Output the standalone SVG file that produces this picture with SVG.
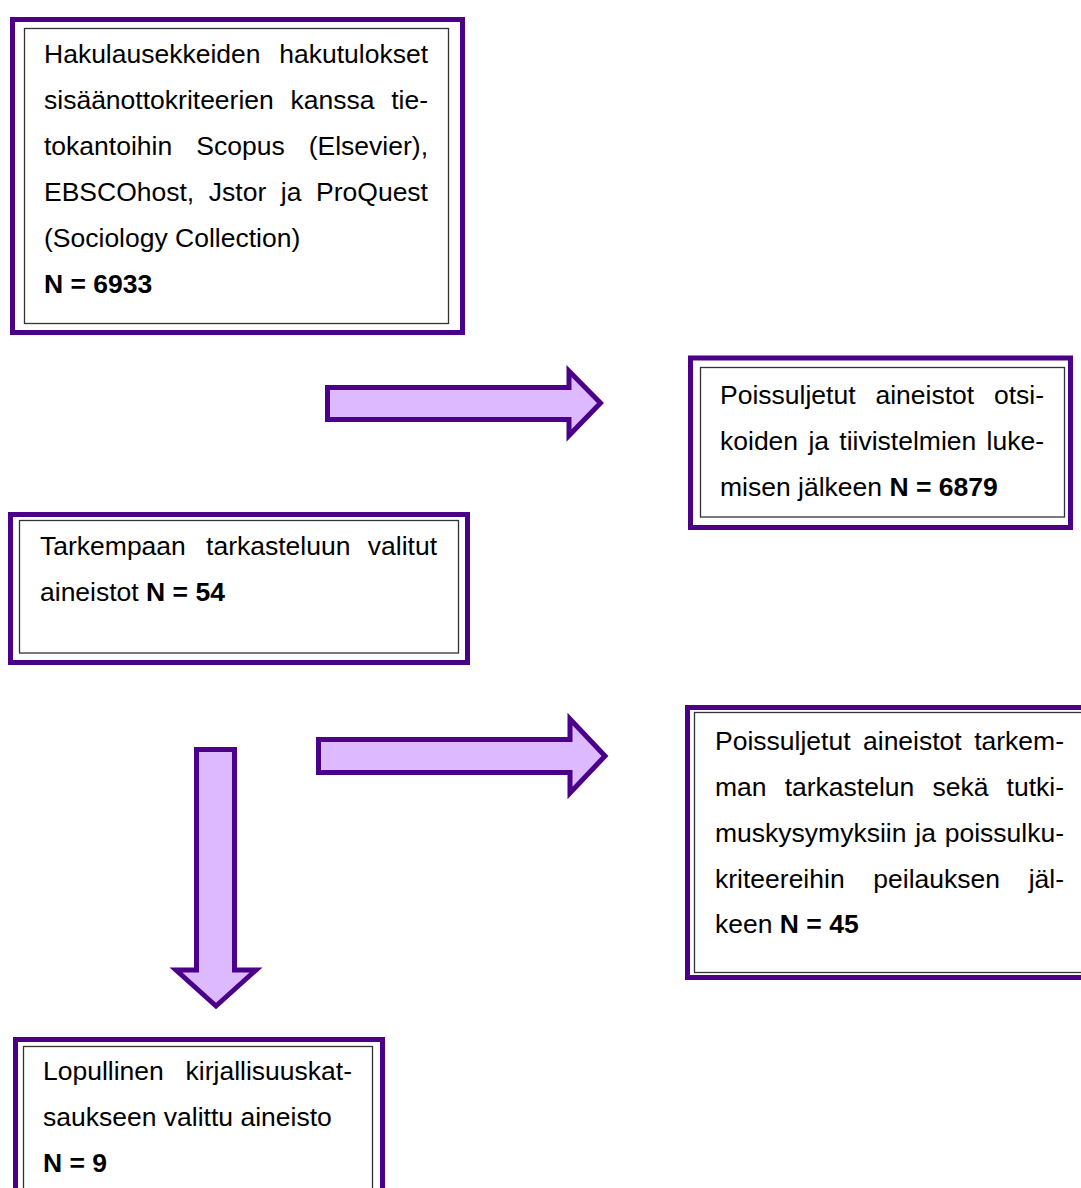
<svg xmlns="http://www.w3.org/2000/svg" width="1081" height="1188" viewBox="0 0 1081 1188">
<style>
.outer{fill:#fff;stroke:#4B0089;stroke-width:5}
.inner{fill:none;stroke:#333;stroke-width:1.3}
.arrow{fill:#DDB9FF;stroke:#4B0089;stroke-width:5;stroke-linejoin:miter}
text{font-family:"Liberation Sans",Arial,sans-serif;font-size:26.5px;fill:#000}
.b{font-weight:bold}
.e{text-anchor:end}
</style>
<rect width="1081" height="1188" fill="#fff"/>
<g id="connectors">
<polygon class="arrow" points="327.5,387.5 569,387.5 569,371 600.5,403 569,435.5 569,419.5 327.5,419.5"/>
<polygon class="arrow" points="318.5,739.5 570,739.5 570,719 605,756 570,793 570,772.5 318.5,772.5"/>
<polygon class="arrow" points="196.5,749.5 234.5,749.5 234.5,970 256,970 216,1006 176,970 196.5,970"/>
</g>
<g id="box1">
<rect class="outer" x="12.5" y="19.5" width="450" height="313"/>
<rect class="inner" x="24.5" y="28.5" width="424" height="295"/>
<text y="63"><tspan x="44">Hakulausekkeiden</tspan><tspan x="428" class="e">hakutulokset</tspan></text>
<text y="109"><tspan x="44">sisäänottokriteerien</tspan><tspan x="290.5">kanssa</tspan><tspan x="428" class="e">tie-</tspan></text>
<text y="155"><tspan x="44">tokantoihin</tspan><tspan x="196.3">Scopus</tspan><tspan x="428" class="e">(Elsevier),</tspan></text>
<text y="201"><tspan x="44">EBSCOhost,</tspan><tspan x="208.8">Jstor</tspan><tspan x="280.8">ja</tspan><tspan x="428" class="e">ProQuest</tspan></text>
<text x="44" y="247">(Sociology Collection)</text>
<text x="44" y="293" class="b">N = 6933</text>
</g>
<g id="box2">
<rect class="outer" x="690.5" y="358" width="380" height="169.5"/>
<rect class="inner" x="700.5" y="367.5" width="364" height="149.5"/>
<text y="404"><tspan x="720">Poissuljetut</tspan><tspan x="875.4">aineistot</tspan><tspan x="1044" class="e">otsi-</tspan></text>
<text y="450"><tspan x="720">koiden</tspan><tspan x="808.4">ja</tspan><tspan x="839.3">tiivistelmien</tspan><tspan x="1044" class="e">luke-</tspan></text>
<text x="720" y="496">misen jälkeen <tspan class="b">N = 6879</tspan></text>
</g>
<g id="box3">
<rect class="outer" x="10.5" y="514.5" width="457" height="148"/>
<rect class="inner" x="19.5" y="520.5" width="439" height="132.5"/>
<text y="555"><tspan x="40">Tarkempaan</tspan><tspan x="206.1">tarkasteluun</tspan><tspan x="437" class="e">valitut</tspan></text>
<text x="40" y="601">aineistot <tspan class="b">N = 54</tspan></text>
</g>
<g id="box4">
<rect class="outer" x="687.5" y="707.5" width="420" height="270"/>
<rect class="inner" x="694.5" y="712.5" width="400" height="260"/>
<text y="750"><tspan x="715">Poissuljetut</tspan><tspan x="863">aineistot</tspan><tspan x="1064" class="e">tarkem-</tspan></text>
<text y="796"><tspan x="715">man</tspan><tspan x="784.7">tarkastelun</tspan><tspan x="932.5">sekä</tspan><tspan x="1064" class="e">tutki-</tspan></text>
<text y="842"><tspan x="715">muskysymyksiin</tspan><tspan x="915.3">ja</tspan><tspan x="1064" class="e">poissulku-</tspan></text>
<text y="888"><tspan x="715">kriteereihin</tspan><tspan x="873.3">peilauksen</tspan><tspan x="1064" class="e">jäl-</tspan></text>
<text x="715" y="933">keen <tspan class="b">N = 45</tspan></text>
</g>
<g id="box5">
<rect class="outer" x="15.5" y="1039.5" width="367" height="200"/>
<rect class="inner" x="23.5" y="1046.5" width="349" height="180"/>
<text y="1080"><tspan x="43">Lopullinen</tspan><tspan x="352" class="e">kirjallisuuskat-</tspan></text>
<text x="43" y="1126">saukseen valittu aineisto</text>
<text x="43" y="1172" class="b">N = 9</text>
</g>
</svg>
